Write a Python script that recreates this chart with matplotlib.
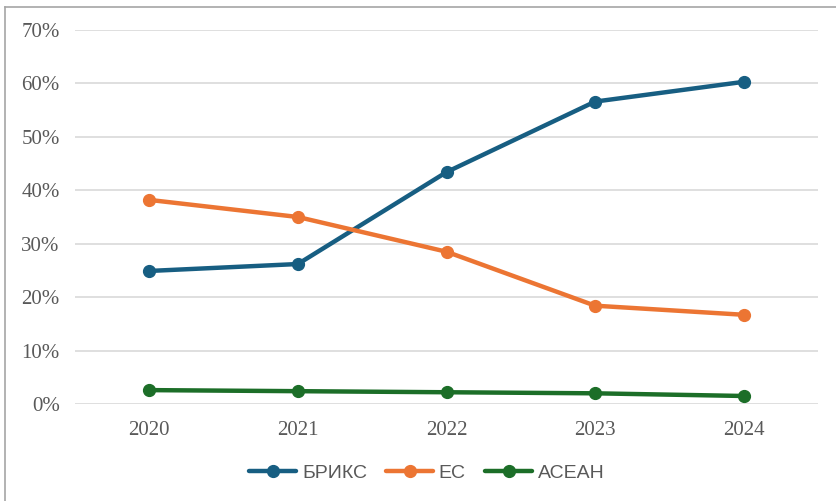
import matplotlib
matplotlib.use("Agg")
import matplotlib.pyplot as plt
from matplotlib.lines import Line2D
from matplotlib.ticker import FuncFormatter

years = ["2020", "2021", "2022", "2023", "2024"]
brics = [24.9, 26.2, 43.4, 56.6, 60.3]
eu = [38.2, 35.0, 28.5, 18.4, 16.7]
asean = [2.6, 2.4, 2.2, 2.0, 1.5]
series_names = ["БРИКС", "ЕС", "АСЕАН"]
colors = ["#175e82", "#ec7533", "#1c6e28"]

fig = plt.figure(figsize=(8.36, 5.01), dpi=100)
ax = fig.add_axes([75/836, 1-404/501, (818-75)/836, (404-30)/501])

x = list(range(len(years)))
for vals, name, c in zip([brics, eu, asean], series_names, colors):
    ax.plot(x, vals, color=c, lw=3.2, marker='o', markersize=8.5, label=name,
            solid_capstyle='round', zorder=3)

ax.set_xlim(-0.5, 4.5)
ax.set_ylim(0, 70)
ax.set_yticks(range(0, 71, 10))
ax.yaxis.set_major_formatter(FuncFormatter(lambda v, p: f"{int(v)}%"))
ax.set_xticks(x)
ax.set_xticklabels(years)
ax.grid(axis='y', color='#d9d9d9', lw=1.2, zorder=0)
for s in ax.spines.values():
    s.set_visible(False)
ax.tick_params(length=0, labelsize=15, colors='#595959', pad=12)
ax.tick_params(axis='y', pad=11)
for lab in ax.get_xticklabels() + ax.get_yticklabels():
    lab.set_fontfamily('Liberation Serif')

leg = fig.legend(loc='center', bbox_to_anchor=(427/836, 1-473/501), ncol=3,
                 frameon=False, prop={'family': 'Liberation Sans', 'size': 14},
                 handlelength=2.4, columnspacing=1.0, handletextpad=0.3,
                 labelcolor='#595959')

# figure border (left and top visible)
fig.add_artist(Line2D([5/836, 5/836], [0, 1-7/501], color='#a6a6a6', lw=1.2,
                      transform=fig.transFigure))
fig.add_artist(Line2D([5/836, 1], [1-7/501, 1-7/501], color='#a6a6a6', lw=1.2,
                      transform=fig.transFigure))

fig.savefig("out.png", dpi=100)
